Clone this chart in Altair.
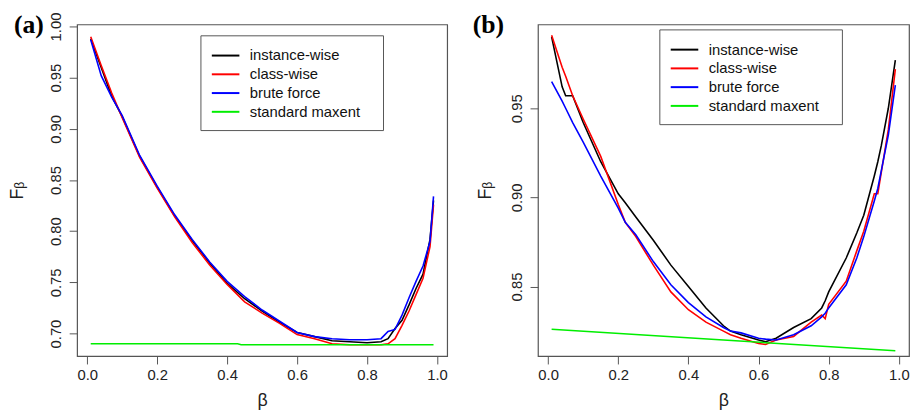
import altair as alt
import pandas as pd

# ---------------- data ----------------
methods = ["instance-wise", "class-wise", "brute force", "standard maxent"]
colors = ["#000000", "#ff0000", "#0000ff", "#00ee00"]

beta_a = [0.01, 0.04, 0.07, 0.10, 0.15, 0.20, 0.25, 0.30, 0.35, 0.40, 0.45, 0.50, 0.55, 0.60,
          0.65, 0.70, 0.75, 0.80, 0.84, 0.86, 0.88, 0.90, 0.92, 0.94, 0.96, 0.98, 0.99]
black_a = [0.988, 0.960, 0.932, 0.912, 0.873, 0.843, 0.815, 0.791, 0.769, 0.749, 0.734, 0.722, 0.711, 0.701,
           0.697, 0.693, 0.692, 0.691, 0.692, 0.695, 0.705, 0.713, 0.728, 0.744, 0.758, 0.792, 0.830]
red_a = [0.990, 0.962, 0.935, 0.911, 0.872, 0.842, 0.814, 0.789, 0.767, 0.748, 0.731, 0.720, 0.710, 0.699,
         0.695, 0.690, 0.689, 0.689, 0.689, 0.690, 0.695, 0.708, 0.722, 0.738, 0.754, 0.785, 0.826]
blue_a = [0.987, 0.952, 0.931, 0.913, 0.874, 0.844, 0.816, 0.792, 0.770, 0.751, 0.736, 0.723, 0.712, 0.701,
          0.697, 0.695, 0.694, 0.694, 0.695, 0.702, 0.704, 0.718, 0.735, 0.751, 0.766, 0.790, 0.834]
green_beta_a = [0.01, 0.43, 0.44, 0.99]
green_a = [0.690, 0.690, 0.689, 0.689]

beta_b = [0.01, 0.04, 0.05, 0.07, 0.10, 0.15, 0.20, 0.22, 0.25, 0.30, 0.35, 0.40, 0.45, 0.50, 0.52, 0.55,
          0.60, 0.62, 0.65, 0.70, 0.75, 0.78, 0.79, 0.80, 0.85, 0.88, 0.90, 0.93, 0.94, 0.95, 0.97, 0.99]
black_b = [0.990, 0.962, 0.957, 0.957, 0.942, 0.920, 0.902, 0.897, 0.889, 0.876, 0.862, 0.850, 0.838, 0.828,
           0.825, 0.823, 0.820, 0.819, 0.821, 0.827, 0.832, 0.838, 0.842, 0.847, 0.866, 0.880, 0.890, 0.912,
           0.920, 0.929, 0.950, 0.977]
red_b = [0.991, 0.973, 0.968, 0.957, 0.944, 0.923, 0.896, 0.886, 0.878, 0.862, 0.847, 0.837, 0.830, 0.825,
         0.823, 0.821, 0.818, 0.8175, 0.820, 0.822, 0.830, 0.834, 0.832, 0.840, 0.853, 0.870, 0.881, 0.902,
         0.902, 0.914, 0.938, 0.972]
blue_b = [0.965, 0.954, 0.950, 0.942, 0.931, 0.912, 0.894, 0.886, 0.879, 0.864, 0.851, 0.841, 0.833, 0.827,
          0.825, 0.824, 0.821, 0.8205, 0.820, 0.823, 0.828, 0.833, 0.835, 0.838, 0.851, 0.866, 0.878, 0.898,
          0.905, 0.915, 0.935, 0.963]
green_beta_b = [0.01, 0.50, 0.99]
green_b = [0.826, 0.820, 0.814]

x_ticks = [0.0, 0.2, 0.4, 0.6, 0.8, 1.0]
y_ticks_a = [0.70, 0.75, 0.80, 0.85, 0.90, 0.95, 1.00]
y_ticks_b = [0.85, 0.90, 0.95]
panel_labels = ["(a)", "(b)"]


def long_df(series):
    rows = []
    for name, xs, ys in series:
        for x, y in zip(xs, ys):
            rows.append({"beta": x, "F": y, "method": name})
    return pd.DataFrame(rows)


df_a = long_df([(methods[0], beta_a, black_a), (methods[1], beta_a, red_a),
                (methods[2], beta_a, blue_a), (methods[3], green_beta_a, green_a)])
df_b = long_df([(methods[0], beta_b, black_b), (methods[1], beta_b, red_b),
                (methods[2], beta_b, blue_b), (methods[3], green_beta_b, green_b)])

FONT = "Liberation Sans"


def panel(df, ydom, yticks, legx, legy, label, width, labx, ytitlepad):
    lines = alt.Chart(df).mark_line(strokeWidth=1.6).encode(
        x=alt.X("beta:Q",
                scale=alt.Scale(domain=[-0.029, 1.029], nice=False, zero=False),
                axis=alt.Axis(values=x_ticks, format=".1f", title="β",
                              labelPadding=4, titlePadding=9)),
        y=alt.Y("F:Q",
                scale=alt.Scale(domain=ydom, nice=False, zero=False),
                axis=alt.Axis(values=yticks, format=".2f", title="Fᵦ",
                              labelAngle=270, labelAlign="center", labelBaseline="bottom",
                              labelPadding=6, titlePadding=ytitlepad)),
        color=alt.Color("method:N",
                        scale=alt.Scale(domain=methods, range=colors),
                        legend=alt.Legend(orient="none", legendX=legx, legendY=legy,
                                          title=None, direction="vertical",
                                          strokeColor="#555555", fillColor="white",
                                          padding=10, symbolOffset=5, labelOffset=14,
                                          symbolType="M-1.47,0H1.47", symbolSize=361,
                                          symbolStrokeWidth=2, symbolFillColor="transparent",
                                          rowPadding=0,
                                          labelFont=FONT, labelFontSize=15,
                                          labelColor="#111111",
                                          labelExpr="datum.label + '\u00a0\u00a0\u00a0\u200b'")),
        order=alt.Order("method_order:Q"),
    ).transform_calculate(
        method_order="indexof(" + str(methods) + ", datum.method)"
    )
    lab = alt.Chart(alt.Data(values=[{"t": label}])).mark_text(
        font="Liberation Serif", fontWeight="bold", fontSize=26, align="left",
        baseline="alphabetic", color="#000000"
    ).encode(text="t:N", x=alt.value(labx), y=alt.value(9))
    return alt.layer(lines, lab).properties(width=width, height=336)


pa = panel(df_a, [0.678, 1.002], y_ticks_a, 125, 11, panel_labels[0], 375, -64, 22)
pb = panel(df_b, [0.811, 0.997], y_ticks_b, 123, 5, panel_labels[1], 376, -66, 15)

chart = alt.hconcat(pa, pb, spacing=24).resolve_scale(color="independent").resolve_legend(
    color="independent"
).properties(padding=0).configure_view(stroke="#555555", strokeWidth=1.2).configure_axis(
    domain=False, grid=False, tickColor="#555555", tickSize=8, tickWidth=1,
    labelFont=FONT, labelFontSize=15, labelColor="#222222",
    titleFont=FONT, titleFontSize=18, titleFontWeight="normal", titleColor="#222222",
)

chart.save("out.html", embed_options={"renderer": "svg", "actions": False})
